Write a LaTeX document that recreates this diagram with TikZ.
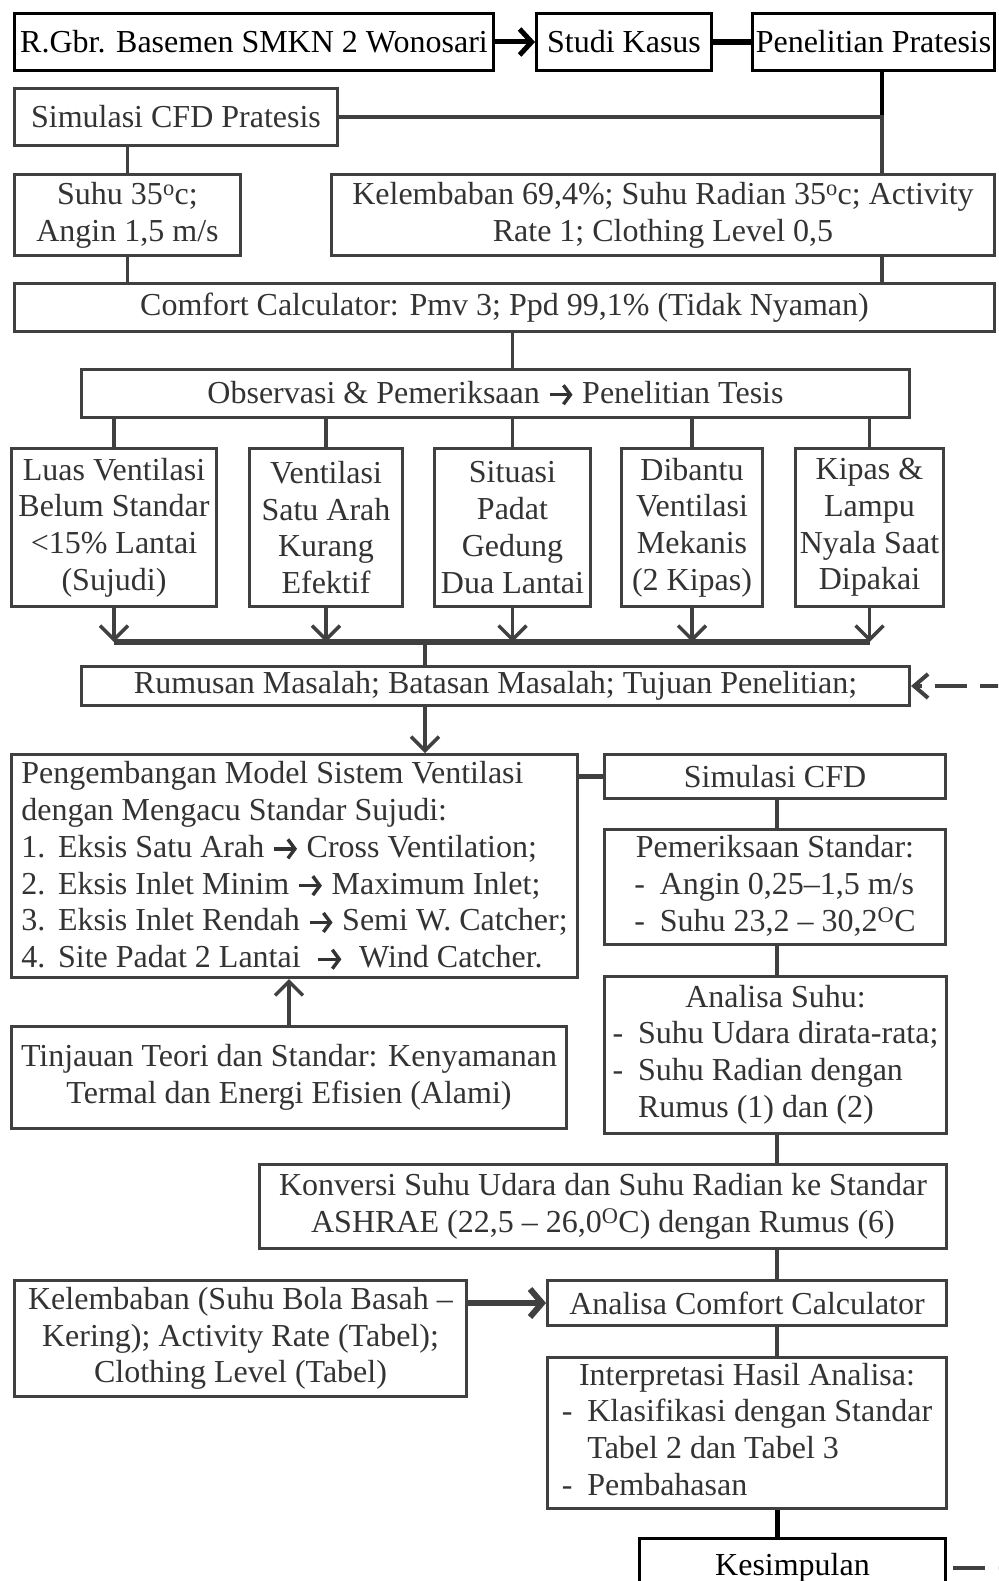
\documentclass[tikz,border=0pt]{standalone}
\usepackage{fontspec}
\setmainfont{Liberation Serif}
\usetikzlibrary{arrows.meta,positioning,calc}
\definecolor{ink}{gray}{0.25}
\definecolor{txt}{gray}{0.2}
\newcommand{\ra}{\tikz[baseline=0pt, x=1pt, y=1pt]\draw[txt, line width=3.4pt, -{Straight Barb[length=7pt, width=19pt, line width=3.4pt]}] (0,8.5) -- (23,8.5);}
\newcommand{\dsh}{\makebox[0.8em][l]{-}}
\newcommand{\dind}{\hspace*{0.8em}}
\tikzset{
  box/.style={draw=ink, line width=3pt, rectangle, align=center, font=\fontsize{32}{36.8}\selectfont, text=txt, inner sep=2pt, fill=white},
  tbox/.style={box, draw=black, text=black},
  ln/.style={draw=ink, line width=3.5pt},
  arr/.style={ln, -{Straight Barb[length=14pt, width=28pt]}},
  darr/.style={ln, line width=4pt, dash pattern=on 32pt off 13pt, dash phase=26pt, {Straight Barb[length=14pt, width=24pt]}-},
}

\begin{document}
\begin{tikzpicture}[x=1pt, y=-1pt]
\useasboundingbox (0,0) rectangle (998,1581);
\clip (0,0) rectangle (998,1581);
\fill[white] (0,0) rectangle (998,1581);
% top row
\node[tbox, minimum width=479pt, minimum height=57pt] (rgbr) at (254,42) {R.Gbr. Basemen SMKN 2 Wonosari};
\node[tbox, minimum width=175pt, minimum height=57pt] (studi) at (624,42) {Studi Kasus};
\node[tbox, minimum width=242pt, minimum height=57pt] (pratesis) at (873.5,42) {Penelitian Pratesis};
\node[box, minimum width=323pt, minimum height=57pt] (simpra) at (176,117) {Simulasi CFD Pratesis};
\node[box, minimum width=226pt, minimum height=81pt] (suhu) at (127.5,215) {Suhu 35\textsuperscript{o}c;\\Angin 1,5 m/s};
\node[box, minimum width=663pt, minimum height=81pt] (kelemb) at (663,215) {Kelembaban 69,4\%; Suhu Radian 35\textsuperscript{o}c; Activity\\Rate 1; Clothing Level 0,5};
\node[box, minimum width=980pt, minimum height=48pt] (comfort) at (504.5,307.5) {Comfort Calculator: Pmv 3; Ppd 99,1\% (Tidak Nyaman)};
\node[box, minimum width=828pt, minimum height=48pt] (obs) at (495.5,393.5) {Observasi \& Pemeriksaan \ra{} Penelitian Tesis};
% problems
\foreach \nm/\cx/\bw/\lbl in {
  luas/114/205/{Luas Ventilasi\\Belum Standar\\<15\% Lantai\\(Sujudi)},
  satu/326/153/{Ventilasi\\Satu Arah\\Kurang\\Efektif},
  padat/512.5/156/{Situasi\\Padat\\Gedung\\Dua Lantai},
  kipas/692/141/{Dibantu\\Ventilasi\\Mekanis\\(2 Kipas)},
  lampu/869.5/148/{Kipas \&\\Lampu\\Nyala Saat\\Dipakai}}
  \node[box, minimum width=\bw pt, minimum height=158pt] (\nm) at (\cx,527.5) {\lbl};
\node[box, minimum width=828pt, minimum height=39pt] (rumusan) at (495.5,686) {Rumusan Masalah; Batasan Masalah; Tujuan Penelitian;};
% model
\node[box, minimum width=566pt, minimum height=223pt, align=left] (pengemb) at (294.5,866) {Pengembangan Model Sistem Ventilasi\\dengan Mengacu Standar Sujudi:\\1.\hspace{0.4em}Eksis Satu Arah \ra{} Cross Ventilation;\\2.\hspace{0.4em}Eksis Inlet Minim \ra{} Maximum Inlet;\\3.\hspace{0.4em}Eksis Inlet Rendah \ra{} Semi W. Catcher;\\4.\hspace{0.4em}Site Padat 2 Lantai \ \ra{} \ Wind Catcher.};
\node[box, minimum width=555pt, minimum height=102pt] (tinjauan) at (289,1077.5) {Tinjauan Teori dan Standar: Kenyamanan\\Termal dan Energi Efisien (Alami)};
\node[box, minimum width=341pt, minimum height=44pt] (simcfd) at (775,776.5) {Simulasi CFD};
\node[box, minimum width=341pt, minimum height=111pt] (periksa) at (775,887) {\begin{tabular}{@{}l@{}}\multicolumn{1}{@{}c@{}}{Pemeriksaan Standar:}\\\dsh Angin 0,25–1,5 m/s\\\dsh Suhu 23,2 – 30,2\textsuperscript{O}C\end{tabular}};
\node[box, minimum width=342pt, minimum height=157pt] (anasuhu) at (775.5,1055) {\begin{tabular}{@{}l@{}}\multicolumn{1}{@{}c@{}}{Analisa Suhu:}\\\dsh Suhu Udara dirata-rata;\\\dsh Suhu Radian dengan\\\dind Rumus (1) dan (2)\end{tabular}};
\node[box, minimum width=687pt, minimum height=84pt] (konversi) at (603,1206.5) {Konversi Suhu Udara dan Suhu Radian ke Standar\\ASHRAE (22,5 – 26,0\textsuperscript{O}C) dengan Rumus (6)};
\node[box, minimum width=452pt, minimum height=116pt] (kel2) at (240.5,1338.5) {Kelembaban (Suhu Bola Basah –\\Kering); Activity Rate (Tabel);\\Clothing Level (Tabel)};
\node[box, minimum width=399pt, minimum height=45pt] (anacomf) at (747,1303) {Analisa Comfort Calculator};
\node[box, minimum width=399pt, minimum height=147pt] (interp) at (747,1433) {\begin{tabular}{@{}l@{}}\multicolumn{1}{@{}c@{}}{Interpretasi Hasil Analisa:}\\\dsh Klasifikasi dengan Standar\\\dind Tabel 2 dan Tabel 3\\\dsh Pembahasan\end{tabular}};
\node[tbox, minimum width=306pt, minimum height=60pt] (kesimp) at (792.5,1568) {Kesimpulan};
% helper columns
\coordinate (jx) at (882,117);
\coordinate (cx) at (777,0);
\coordinate (bar) at (425,642);
\coordinate (fb) at (1014,0);
% connectors
\draw[line width=5pt, -{Straight Barb[length=12pt, width=26pt]}] (rgbr.east) -- (studi.west);
\draw[line width=6pt] (studi.east) -- (pratesis.west);
\draw[line width=3.5pt] (pratesis.south -| jx) -- (jx);
\draw[ln] (simpra.east) -- (jx) -- (kelemb.north -| jx);
\draw[ln] (suhu.north |- simpra.south) -- (suhu.north);
\draw[ln] (suhu.south) -- (suhu.south |- comfort.north);
\draw[ln] (kelemb.south -| jx) -- (comfort.north -| jx);
\draw[ln] (padat.north |- comfort.south) -- (padat.north |- obs.north);
\foreach \nm in {luas,satu,padat,kipas,lampu}{
  \draw[ln] (\nm.north |- obs.south) -- (\nm.north);
  \draw[arr] (\nm.south) -- (\nm.south |- bar);
}
\draw[ln, line width=5.5pt] (luas.south |- bar) -- (lampu.south |- bar);
\draw[ln] (bar) -- (bar |- rumusan.north);
\draw[arr] (bar |- rumusan.south) -- (bar |- pengemb.north);
\draw[arr] (tinjauan.north) -- (tinjauan.north |- pengemb.south);
\draw[ln, line width=5pt] (simcfd.west -| pengemb.east) -- (simcfd.west);
\draw[ln] (cx |- simcfd.south) -- (cx |- periksa.north);
\draw[ln] (cx |- periksa.south) -- (cx |- anasuhu.north);
\draw[ln] (cx |- anasuhu.south) -- (cx |- konversi.north);
\draw[ln] (cx |- konversi.south) -- (cx |- anacomf.north);
\draw[ln, line width=6pt, -{Straight Barb[length=12pt, width=28pt]}] (kel2.east |- anacomf.west) -- (anacomf.west);
\draw[ln] (cx |- anacomf.south) -- (cx |- interp.north);
\draw[line width=5pt] (cx |- interp.south) -- (cx |- kesimp.north);
\draw[darr] (rumusan.east) -- (rumusan.east -| fb) |- (kesimp.east);
\end{tikzpicture}
\end{document}
